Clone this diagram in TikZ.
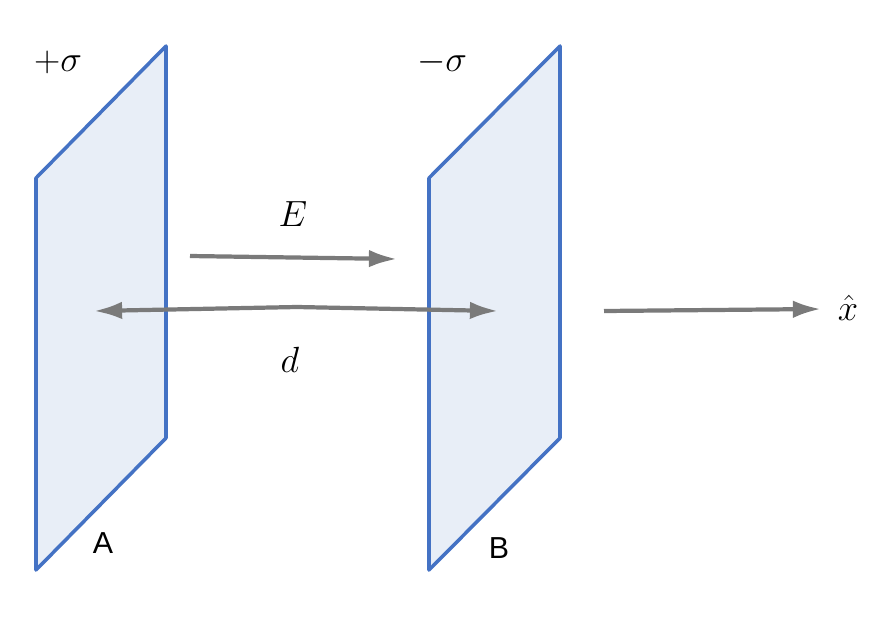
\documentclass[tikz,border=0pt]{standalone}
\usepackage{fontspec}
\setsansfont{Liberation Sans}
\usetikzlibrary{arrows.meta}
\definecolor{plateblue}{HTML}{4472C4}
\definecolor{platefill}{HTML}{E8EEF7}
\definecolor{arrgray}{HTML}{7A7A7A}
\begin{document}
\begin{tikzpicture}[x=0.02cm,y=-0.02cm,
  plate/.style={draw=plateblue,fill=platefill,line width=2pt,line join=round},
  garrow/.style={draw=arrgray,line width=2.4pt,-{Latex[length=16pt,width=10pt]}},
  lbl/.style={font=\huge}]
\useasboundingbox (0,0) rectangle (896,616);
\draw[plate] (36,178) -- (166,46) -- (166,438) -- (36,570) -- cycle;
\draw[plate] (429,178) -- (560,46) -- (560,438) -- (429,570) -- cycle;
\coordinate (e1) at (190,256); \coordinate (e2) at (397,259);
\coordinate (d1) at (94,311); \coordinate (dm) at (297,307); \coordinate (d2) at (498,311);
\coordinate (x1) at (604,311); \coordinate (x2) at (821,309);
\draw[garrow] (e1) -- (e2);
\draw[garrow,{Latex[length=16pt,width=10pt]}-{Latex[length=16pt,width=10pt]}] (d1) -- (dm) -- (d2);
\draw[garrow] (x1) -- (x2);
\node[lbl] (sp) at (58,62) {$+\sigma$};
\node[lbl] (sm) at (442,62) {$-\sigma$};
\node[lbl] (E) at (293,214) {$E$};
\node[lbl] (d) at (290,360) {$d$};
\node[lbl] (xh) at (848,308) {$\hat{x}$};
\node[font=\sffamily\LARGE] (A) at (103,543) {A};
\node[font=\sffamily\LARGE] (B) at (499,548) {B};
\end{tikzpicture}
\end{document}
